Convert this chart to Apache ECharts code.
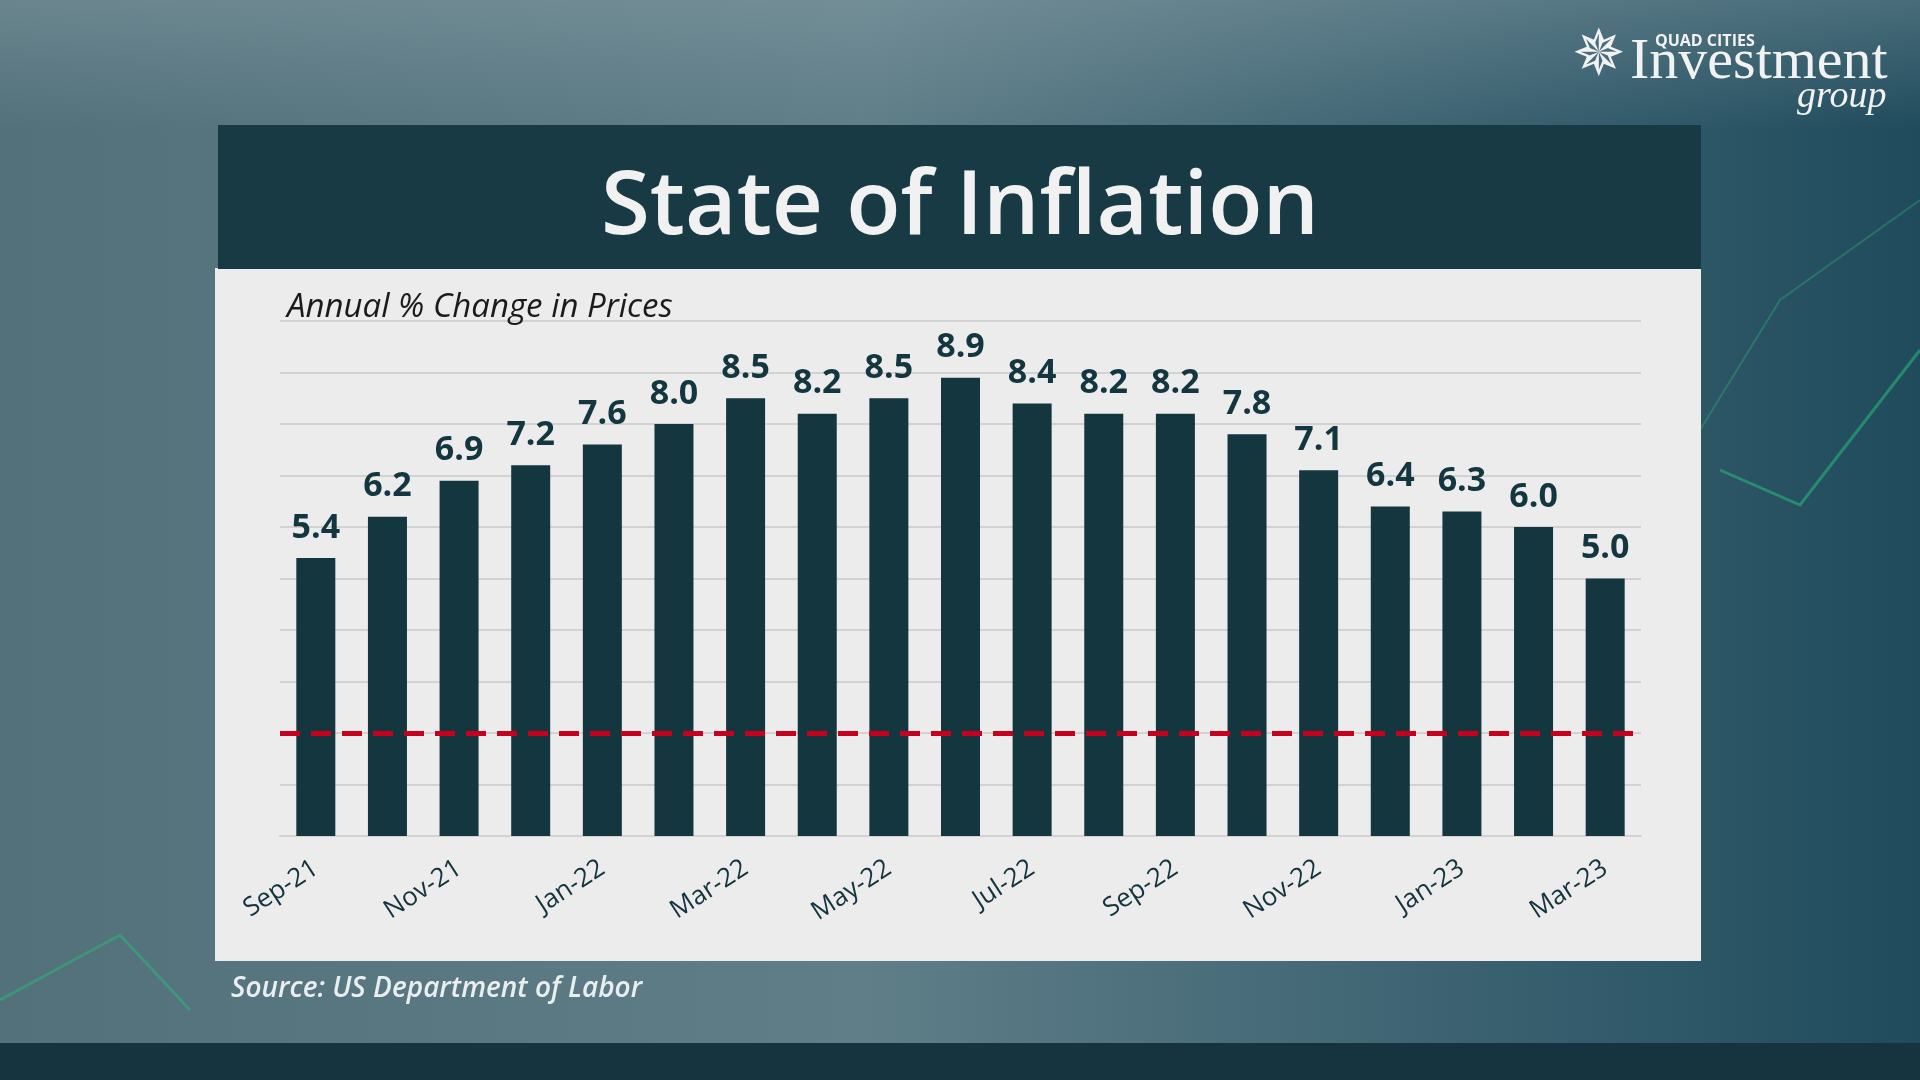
<!DOCTYPE html>
<html>
<head>
<meta charset="utf-8">
<script src="https://cdn.jsdelivr.net/npm/echarts@6/dist/echarts.min.js"></script>
<style>
html,body{margin:0;padding:0;background:#46656f;}
#chart{width:1920px;height:1080px;}
</style>
</head>
<body>
<div id="chart"></div>
<script>
const categories = ['Sep-21','Oct-21','Nov-21','Dec-21','Jan-22','Feb-22','Mar-22','Apr-22','May-22','Jun-22','Jul-22','Aug-22','Sep-22','Oct-22','Nov-22','Dec-22','Jan-23','Feb-23','Mar-23'];
const inflation = [5.4, 6.2, 6.9, 7.2, 7.6, 8.0, 8.5, 8.2, 8.5, 8.9, 8.4, 8.2, 8.2, 7.8, 7.1, 6.4, 6.3, 6.0, 5.0];
const fedTarget = 2;
const yTicks = [0, 1, 2, 3, 4, 5, 6, 7, 8, 9, 10];

const chart = echarts.init(document.getElementById('chart'));
const option = {
  animation: false,
  graphic: [
    { type: 'rect', z: -100, shape: { x: 0, y: 0, width: 1920, height: 1080 },
      style: { fill: new echarts.graphic.LinearGradient(0, 0, 1, 0, [
        { offset: 0, color: '#52717b' }, { offset: 0.45, color: '#5f7e88' },
        { offset: 0.75, color: '#3d6372' }, { offset: 1, color: '#1f4b5c' }]) } },
    { type: 'rect', z: -99, shape: { x: 0, y: 0, width: 1920, height: 130 },
      style: { fill: new echarts.graphic.LinearGradient(0, 0, 0, 1, [
        { offset: 0, color: 'rgba(150,170,178,0.35)' }, { offset: 1, color: 'rgba(150,170,178,0)' }]) } },
    { type: 'polyline', z: -98, shape: { points: [[1720, 470], [1800, 505], [1920, 350]] },
      style: { stroke: 'rgba(40,190,120,0.55)', lineWidth: 3, fill: null } },
    { type: 'polyline', z: -98, shape: { points: [[1700, 430], [1780, 300], [1920, 200]] },
      style: { stroke: 'rgba(40,190,120,0.35)', lineWidth: 2, fill: null } },
    { type: 'polyline', z: -98, shape: { points: [[0, 1000], [120, 935], [190, 1010]] },
      style: { stroke: 'rgba(40,190,120,0.45)', lineWidth: 3, fill: null } },
    { type: 'rect', z: -90, shape: { x: 0, y: 1043, width: 1920, height: 37 }, style: { fill: '#15343f' } },
    { type: 'rect', z: -50, shape: { x: 215, y: 268, width: 1486, height: 693 }, style: { fill: '#ececec' } },
    { type: 'rect', z: -50, shape: { x: 218, y: 125, width: 1483, height: 144 }, style: { fill: '#183a45' } },
    { type: 'text', z: 10, left: 'center', top: 164,
      style: { text: 'State of Inflation', fill: '#f1f1f1', font: '600 89px "Open Sans", sans-serif' } },
    { type: 'text', z: 10, left: 287, top: 291,
      style: { text: 'Annual % Change in Prices', fill: '#1b1b1b', font: 'italic 33px "Open Sans", sans-serif' } },
    { type: 'text', z: 10, left: 231, top: 975,
      style: { text: 'Source: US Department of Labor', fill: '#e9eef0', font: 'italic 600 28px "Open Sans", sans-serif' } },
    { type: 'text', z: 10, left: 1572, top: 26,
      style: { text: '✵', fill: '#f2f2f2', font: '64px "DejaVu Sans", sans-serif' } },
    { type: 'text', z: 10, left: 1655, top: 33,
      style: { text: 'QUAD CITIES', fill: '#f2f2f2', font: 'bold 16px "Open Sans", sans-serif' } },
    { type: 'text', z: 10, left: 1630, top: 34,
      style: { text: 'Investment', fill: '#f2f2f2', font: '58px "Liberation Serif", "DejaVu Serif", serif' } },
    { type: 'text', z: 10, left: 1797, top: 78,
      style: { text: 'group', fill: '#f2f2f2', font: 'italic 38px "Liberation Serif", "DejaVu Serif", serif' } }
  ],
  grid: { left: 280, right: 279, top: 321, bottom: 244 },
  xAxis: {
    type: 'category',
    data: categories,
    axisLine: { show: true, lineStyle: { color: '#d2d2d2', width: 2 } },
    axisTick: { show: false },
    axisLabel: { interval: 1, rotate: 33, margin: 30, color: '#12343f', fontSize: 26, fontFamily: '"Open Sans", sans-serif' }
  },
  yAxis: {
    type: 'value', min: yTicks[0], max: yTicks[yTicks.length - 1], interval: 1,
    axisLine: { show: false }, axisTick: { show: false }, axisLabel: { show: false },
    splitLine: { lineStyle: { color: '#d2d2d2', width: 2 } }
  },
  series: [{
    type: 'bar',
    data: inflation,
    barWidth: 39,
    itemStyle: { color: '#13363f' },
    label: {
      show: true, position: 'top', distance: 13,
      formatter: p => p.value.toFixed(1),
      color: '#13363f', fontSize: 34, fontWeight: 'bold', fontFamily: '"Open Sans", sans-serif'
    },
    markLine: {
      silent: true, symbol: 'none', z: 5,
      label: { show: false },
      lineStyle: { color: '#c8001e', width: 5, type: [20, 11] },
      data: [{ yAxis: fedTarget }]
    }
  }]
};
chart.setOption(option);
</script>
</body>
</html>
